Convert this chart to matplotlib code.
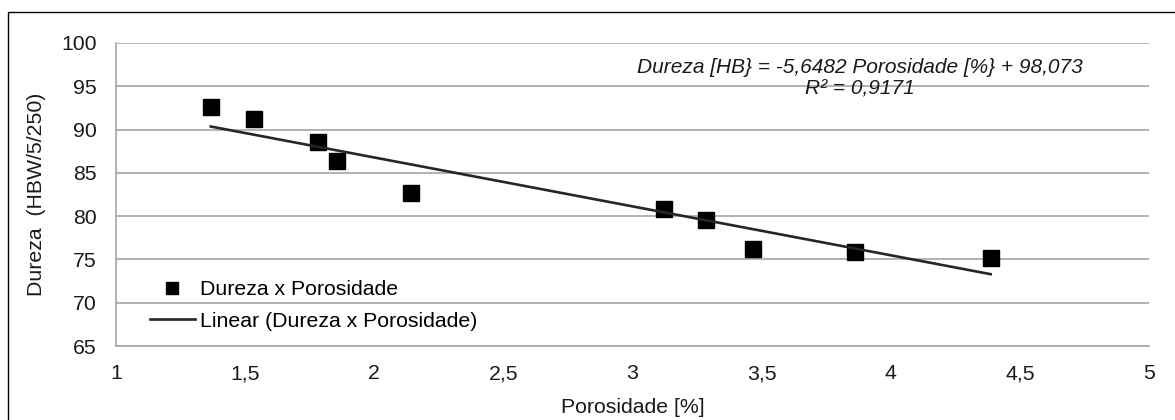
import matplotlib
matplotlib.use('Agg')
from matplotlib import pyplot as plt
from matplotlib.patches import Rectangle
import numpy as np

# dados
porosidade = [1.367, 1.536, 1.783, 1.856, 2.143, 3.123, 3.285, 3.467, 3.862, 4.387]
dureza = [92.57, 91.22, 88.60, 86.37, 82.64, 80.82, 79.55, 76.20, 75.89, 75.16]
slope = -5.6482
intercept = 98.073
r2_text = "R² = 0,9171"
eq_text = "Dureza [HB} = -5,6482 Porosidade [%} + 98,073"
xticks = [1, 1.5, 2, 2.5, 3, 3.5, 4, 4.5, 5]
xtick_labels = ["1", "1,5", "2", "2,5", "3", "3,5", "4", "4,5", "5"]
yticks = [65, 70, 75, 80, 85, 90, 95, 100]

plt.rcParams['font.family'] = ['Liberation Sans', 'DejaVu Sans']
FS = 15.3

fig = plt.figure(figsize=(11.75, 4.2), dpi=100)
ax = fig.add_axes([116/1175, 74/420, 1033/1175, 303/420])

ax.set_xlim(1, 5)
ax.set_ylim(65, 100)
ax.set_xticks(xticks)
ax.set_xticklabels(xtick_labels)
ax.set_yticks(yticks)
ax.tick_params(length=0, labelsize=FS, colors='#1a1a1a')
ax.tick_params(axis='x', pad=13)
ax.tick_params(axis='y', pad=14)
ax.grid(True, axis='y', color='#a6a6a6', lw=1.2)
ax.set_axisbelow(True)
for s in ['top', 'right']:
    ax.spines[s].set_visible(False)
for s in ['left', 'bottom']:
    ax.spines[s].set_color('#a6a6a6')
    ax.spines[s].set_linewidth(1.2)

ax.plot(porosidade, dureza, 's', color='black', ms=11, label='Dureza x Porosidade', zorder=3)
xt = np.array([min(porosidade), max(porosidade)])
ax.plot(xt, slope*xt + intercept, color='#262626', lw=1.9, label='Linear (Dureza x Porosidade)', zorder=4)

ax.text(0.72, 0.883, eq_text + "\n" + r2_text, transform=ax.transAxes, ha='center', va='center',
        fontsize=15, style='italic', linespacing=1.15, color='#1a1a1a')

leg = ax.legend(loc='center left', bbox_to_anchor=(0.033, 0.134), frameon=False, fontsize=FS,
                handlelength=2.1, handletextpad=0.25, labelspacing=0.6, markerscale=0.8,
                borderpad=0, borderaxespad=0)

ax.set_xlabel("Porosidade [%]", fontsize=FS, labelpad=11, color='#1a1a1a')
ax.set_ylabel("Dureza  (HBW/5/250)", fontsize=FS, labelpad=11, color='#1a1a1a')

fig.add_artist(Rectangle((8/1175, -0.1), 1.2, 1.1 - 12/420, transform=fig.transFigure,
                         fill=False, edgecolor='black', lw=1, clip_on=False))

plt.savefig('out.png', dpi=100)
plt.close('all')
